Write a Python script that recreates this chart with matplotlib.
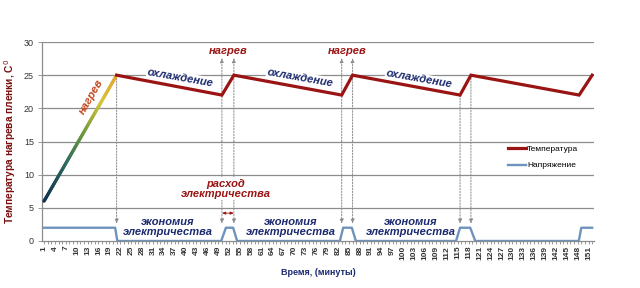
import numpy as np
import matplotlib
matplotlib.use('Agg')
import matplotlib.pyplot as plt
from matplotlib.collections import LineCollection
from matplotlib.colors import LinearSegmentedColormap

plt.rcParams['font.family'] = ['Liberation Sans', 'DejaVu Sans']

# Температура плёнки (минута, градусы)
temp_min = [1, 21, 50, 53.3, 83, 86, 115.6, 118.6, 148.4, 152]
temp_val = [6, 25, 22, 25, 22, 25, 22, 25, 22, 25]

# Напряжение (минута, значение)
volt_min = [1, 20.6, 21.2, 49.8, 51.1, 53.1, 54.2, 82.5, 83.4, 85.8, 86.9,
            114.5, 115.6, 118.4, 119.8, 148.3, 149, 152]
volt_val = [2, 2, 0, 0, 2, 2, 0, 0, 2, 2, 0, 0, 2, 2, 0, 0, 2, 2]

xtick_labels = list(range(1, 152, 3))
ytick_vals = [0, 5, 10, 15, 20, 25, 30]

# подписи
cool_pos = [(38.5, 24.6), (71.5, 24.6), (104.3, 24.4)]
heat_pos = [51.6, 84.5]
save_pos = [35, 69, 102]

RED = '#9b1414'
BLUE = '#6e93bd'
NAVY = '#1c2a6e'
GRID = '#8c8c8c'

fig = plt.figure(figsize=(6.4, 2.88), dpi=100)
ax = fig.add_axes([42.2/640, 1-241/288, 551.8/640, 199/288])

ax.set_xlim(0.5, 152.5)
ax.set_ylim(0, 30)

for y in ytick_vals[1:]:
    ax.axhline(y, color=GRID, lw=0.9, zorder=1)

# нагрев - градиентный участок
xs = np.linspace(temp_min[0], temp_min[1], 120)
ys = np.interp(xs, temp_min[:2], temp_val[:2])
pts = np.array([xs, ys]).T.reshape(-1, 1, 2)
segs = np.concatenate([pts[:-1], pts[1:]], axis=1)
cmap = LinearSegmentedColormap.from_list('heat', [(0, '#10304f'), (0.3, '#2c6a5e'),
                                                  (0.55, '#6f9a3c'), (0.8, '#d6c63a'),
                                                  (1, '#e3a534')])
lc = LineCollection(segs, cmap=cmap, linewidths=2.3, zorder=4, capstyle='round')
lc.set_array(np.linspace(0, 1, len(segs)))
ax.add_collection(lc)

ax.plot(temp_min[1:], temp_val[1:], color=RED, lw=2.3, zorder=4,
        solid_joinstyle='miter', label='Температура')
ax.plot(volt_min, volt_val, color=BLUE, lw=1.7, zorder=4, label='Напряжение')

# пунктирные стрелки
arr_bottom = 2.6
arr_top = 27.6
def dotted_arrow(x, y0, y1):
    ax.annotate('', xy=(x, y1), xytext=(x, y0),
                arrowprops=dict(arrowstyle='-|>,head_length=0.25,head_width=0.1',
                                color='#8a8a8a', lw=0.7, ls=(0, (1.5, 1.5)),
                                shrinkA=0, shrinkB=0), zorder=2)

dotted_arrow(temp_min[1], temp_val[1], arr_bottom)
for i in [2, 4]:
    for x in (temp_min[i], temp_min[i+1]):
        dotted_arrow(x, 15, arr_bottom)
        dotted_arrow(x, 15, arr_top)
for x, y in zip(temp_min[6:8], temp_val[6:8]):
    dotted_arrow(x, y, arr_bottom)

tfont = dict(fontsize=8, fontweight='bold', fontstyle='italic')

ax.text(13.9, 21.7, 'нагрев', color='#c0461e', rotation=60, ha='center',
        va='center', zorder=5, **tfont)
for x, y in cool_pos:
    ax.text(x, y, 'охлаждение', color=NAVY, rotation=-10, ha='center', va='center',
            zorder=5, bbox=dict(fc='white', ec='none', pad=0.5), **tfont)
for x in heat_pos:
    ax.text(x, 28.6, 'нагрев', color=RED, ha='center', va='center', zorder=5, **tfont)
for x in save_pos:
    ax.text(x, 2.1, 'экономия\nэлектричества', color=NAVY, ha='center', va='center',
            linespacing=1.0, zorder=5, **tfont)
ax.text(51.1, 7.9, 'расход\nэлектричества', color=RED, ha='center', va='center',
        linespacing=1.0, zorder=5, bbox=dict(fc='white', ec='none', pad=1.0), **tfont)
ax.annotate('', xy=(temp_min[2], 4.2), xytext=(temp_min[3], 4.2),
            arrowprops=dict(arrowstyle='<|-|>,head_length=0.2,head_width=0.08',
                            color=RED, lw=0.6, shrinkA=0, shrinkB=0), zorder=5)

# оси
ax.set_xticks(xtick_labels)
ax.set_xticklabels([str(v) for v in xtick_labels], rotation=90, fontsize=6,
                   fontweight='bold', color='#333333')
ax.set_xticks(np.arange(1, 153), minor=True)
ax.set_yticks(ytick_vals)
ax.set_yticklabels([str(v) for v in ytick_vals], fontsize=6.5, color='#333333')
ax.tick_params(axis='x', which='both', length=2, width=0.6, color=GRID, pad=1.5)
ax.tick_params(axis='y', length=3, width=0.6, color=GRID, pad=3)
for s in ['top', 'right']:
    ax.spines[s].set_visible(False)
for s in ['left', 'bottom']:
    ax.spines[s].set_color(GRID)
    ax.spines[s].set_linewidth(0.9)

ax.set_ylabel('Температура нагрева пленки, С$^0$', color='#7a1010', fontsize=7.3,
              fontweight='bold', labelpad=4)
ax.set_xlabel('Время, (минуты)', color=NAVY, fontsize=6.5, fontweight='bold',
              labelpad=6)

ax.legend(loc='center left', bbox_to_anchor=(0.844, 0.42), frameon=False,
          fontsize=6, handlelength=2.2, handletextpad=0.1, borderpad=0,
          borderaxespad=0, labelspacing=1.0)

fig.savefig('out.png', dpi=100)
